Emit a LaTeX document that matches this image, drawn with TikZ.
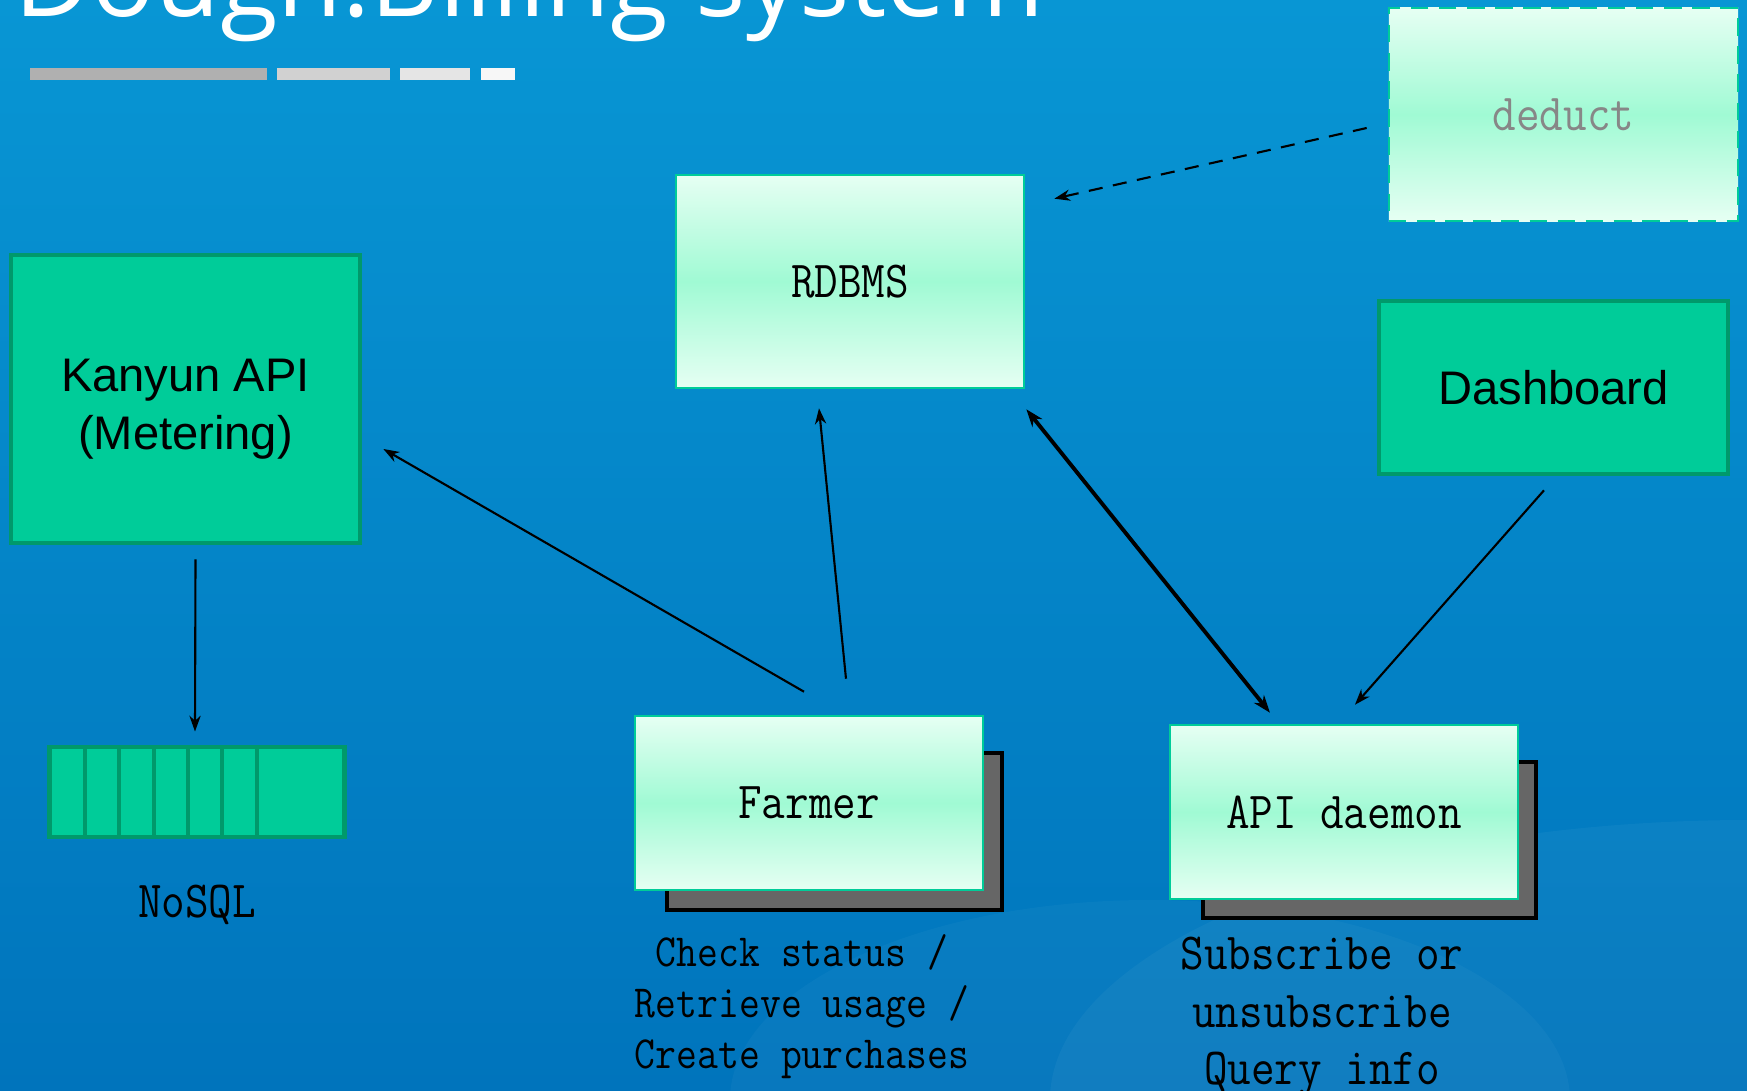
\documentclass[tikz,border=0pt]{standalone}
\usepackage{fontspec}
\newfontfamily\titlefont{Open Sans}
\newfontfamily\boxfont{Liberation Sans}
\newfontfamily\simfont[FakeStretch=0.88]{Latin Modern Mono}
\usetikzlibrary{arrows.meta,calc}
\definecolor{bgtop}{RGB}{8,150,212}
\definecolor{bgbot}{RGB}{0,116,188}
\definecolor{kgreen}{RGB}{0,204,153}
\definecolor{kdark}{RGB}{0,153,107}
\definecolor{mintlt}{RGB}{230,255,243}
\definecolor{mintmd}{RGB}{160,250,212}
\definecolor{shadowgray}{RGB}{102,102,102}

\begin{document}
\begin{tikzpicture}[x=0.01cm, y=-0.01cm,
			greenbox/.style = {rectangle, draw=kdark, line width=1.3pt, fill=kgreen,
				align=center, inner sep=0pt, font=\boxfont\fontsize{13.4}{16.5}\selectfont},
			mintbox/.style = {rectangle, draw=kgreen, line width=0.7pt, inner sep=0pt,
				top color=mintlt, bottom color=mintlt, middle color=mintmd,
				font=\simfont\fontsize{14.8}{18}\selectfont},
			shadowbox/.style = {rectangle, draw=black, line width=1.2pt, fill=shadowgray, inner sep=0pt},
			note/.style = {align=center, inner sep=0pt},
			arr/.style = {-{Stealth[length=4.5pt,width=3.2pt]}, line width=0.6pt}]
			\useasboundingbox (0,0) rectangle (1747,1091);
			\shade[top color=bgtop, bottom color=bgbot] (0,0) rectangle (1747,1091);
			\fill[white, opacity=0.04] (1750,1100) ellipse [x radius=700, y radius=280];
			\fill[white, opacity=0.03] (1150,1100) ellipse [x radius=420, y radius=200];
			% title
			\node[anchor=base west, inner sep=0pt, text=white,
				font=\titlefont\fontsize{30}{34}\selectfont] (title) at (14,17) {Dough.Billing system};
			\fill[black!31] (30,68) rectangle (267,80);
			\fill[black!18] (277,68) rectangle (390,80);
			\fill[black!10] (400,68) rectangle (470,80);
			\fill[black!3] (481,68) rectangle (515,80);
			% boxes
			\node[greenbox, minimum width=3.49cm, minimum height=2.88cm] (kanyun) at (185.5,399) {\strut\\[-13pt]Kanyun API\\(Metering)};
			\node[greenbox, minimum width=3.49cm, minimum height=1.73cm] (dashboard) at (1553.5,387.5) {Dashboard};
			\node[mintbox, minimum width=3.48cm, minimum height=2.13cm] (rdbms) at (850,281.5) {RDBMS};
			\node[mintbox, draw=kgreen, dashed, dash pattern=on 5pt off 3pt, text=black!47,
				minimum width=3.49cm, minimum height=2.13cm] (deduct) at (1563.5,114.5) {deduct};
			\node[shadowbox, minimum width=3.35cm, minimum height=1.57cm] (farmershadow) at (834.5,831.5) {};
			\node[mintbox, minimum width=3.48cm, minimum height=1.74cm] (farmer) at (809,803) {Farmer};
			\node[shadowbox, minimum width=3.33cm, minimum height=1.56cm] (apishadow) at (1369.5,840) {};
			\node[mintbox, minimum width=3.48cm, minimum height=1.74cm] (api) at (1344,812) {API daemon};
			% nosql store
			\node[rectangle, draw=kdark, line width=1.4pt, fill=kgreen, inner sep=0pt,
				minimum width=2.95cm, minimum height=0.9cm] (nosql) at (197,792) {};
			\foreach \x in {85,119,154,188,222,257}
				\draw[kdark, line width=1.4pt] (\x,747) -- (\x,837);
			\node[note, font=\simfont\fontsize{14.8}{18}\selectfont] (nosqllabel) at (197,905) {NoSQL};
			% texts under boxes
			\node[note, font=\simfont\fontsize{13.1}{14.5}\selectfont] (farmerlabel) at (802,1007)
				{Check status /\\Retrieve usage /\\Create purchases};
			\node[note, font=\simfont\fontsize{14.8}{16.4}\selectfont] (apilabel) at (1322,1017)
				{Subscribe or\\unsubscribe\\Query info};
			% connectors
			\draw[arr] ($(kanyun.south)+(10,14)$) -- ($(nosql.north)+(-2,-13)$);
			\draw[arr] ($(farmer.north)+(-5,-23)$) -- ($(kanyun.east)+(21,50)$);
			\draw[arr] ($(farmer.north)+(37,-36)$) -- ($(rdbms.south)+(-31,19)$);
			\draw[arr, line width=1.1pt, {Stealth[length=5pt,width=3.6pt]}-{Stealth[length=5pt,width=3.6pt]}]
				($(rdbms.south east)+(1,20)$) -- ($(api.north)+(-74,-11)$);
			\draw[arr] ($(dashboard.south)+(-9.5,14)$) -- ($(api.north)+(11,-19)$);
			\draw[arr, dashed, dash pattern=on 4pt off 3pt] ($(deduct.west)+(-21,13.5)$) -- ($(rdbms.north east)+(29,25)$);
\end{tikzpicture}
\end{document}
